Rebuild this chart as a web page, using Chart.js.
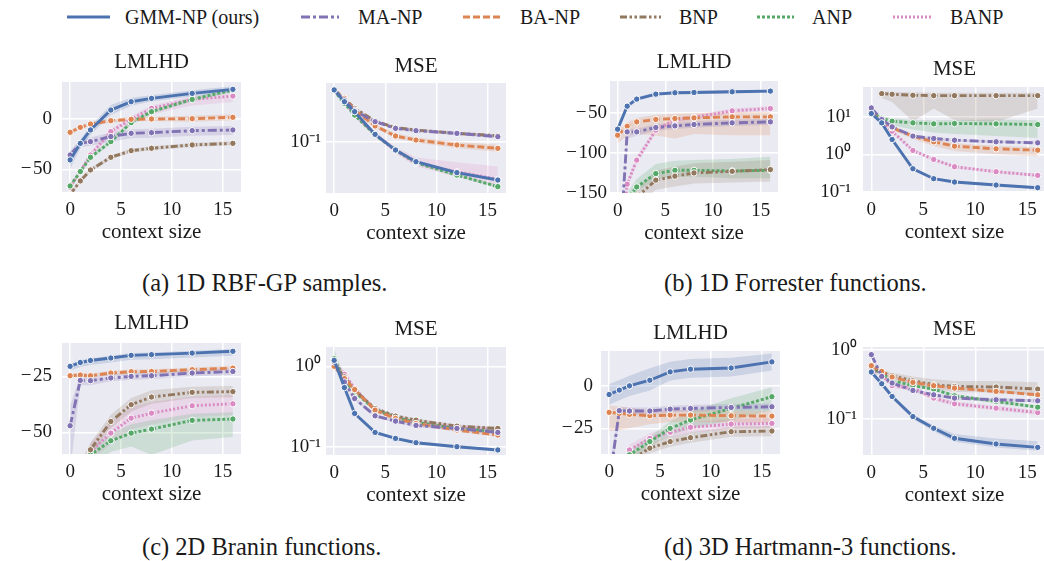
<!DOCTYPE html>
<html><head><meta charset="utf-8">
<script src="https://cdn.jsdelivr.net/npm/chart.js@4.4.1/dist/chart.umd.min.js"></script>
<style>
html,body{margin:0;padding:0;background:#fff;width:1044px;height:561px;overflow:hidden;position:relative;font-family:"Liberation Serif","Times New Roman",serif;color:#1a1a1a}
.panel{position:absolute}
.lg{position:absolute;top:5px;height:24px;font-size:20px;line-height:24px;white-space:nowrap}
.lg svg{position:absolute;top:8px}
.cap{position:absolute;font-size:24.5px;line-height:28px;white-space:nowrap}
</style></head><body>
<div id="legend"></div>
<div class="cap" style="left:142px;top:269px">(a) 1D RBF-GP samples.</div>
<div class="cap" style="left:664px;top:269px">(b) 1D Forrester functions.</div>
<div class="cap" style="left:142px;top:533px">(c) 2D Branin functions.</div>
<div class="cap" style="left:664px;top:533px">(d) 3D Hartmann-3 functions.</div>
<script>
// ---------------- data ----------------
const contextSizes = [0, 1, 2, 4, 6, 8, 12, 16];
const seriesNames = ['GMM-NP (ours)', 'MA-NP', 'BA-NP', 'BNP', 'ANP', 'BANP'];
const seriesColors = ['#4C72B0', '#8172B3', '#DD8452', '#937860', '#55A868', '#DA8BC3'];
const seriesDashes = [[], [9, 3, 3, 3], [7, 3], [7, 2.5, 2.5, 2.5, 2.5, 2.5], [3, 2], [2, 2]];

// (a) 1D RBF-GP samples — LMLHD (rows: GMM, MA, BA, BNP, ANP, BANP)
const rbfLmlhd = [
  [-40.7, -24.2, -10.9, 8.9, 17.2, 20.5, 25.5, 29.5],
  [-35.8, -24.2, -22.5, -17.5, -14.2, -13.6, -11.6, -10.9],
  [-13.2, -8.3, -5.0, -1.7, -0.3, 0.0, 0.3, 1.7],
  [-75, -61.6, -50.7, -38.1, -31.5, -29.1, -25.8, -24.2],
  [-66.6, -52.3, -38.1, -22.5, -3.6, 7.3, 19.5, 28.8],
  [-68, -52, -35.8, -12.6, -0.3, 10.6, 19.5, 22.8]];
const rbfLmlhdLo = [
  [9, 5, 5, 5, 4, 3, 3, 3], [5, 4, 4, 5, 5, 5, 5, 5], [2, 2, 2, 2, 2, 2, 3, 3],
  [2, 2, 2, 2, 2, 2, 2, 2], [2, 2, 2, 2, 2, 2, 2, 2], [2, 2, 3, 4, 5, 6, 6, 6]];
const rbfLmlhdHi = [
  [5, 4, 4, 5, 4, 3, 3, 3], [4, 4, 4, 4, 4, 4, 4, 4], [2, 2, 2, 2, 2, 2, 3, 3],
  [2, 2, 2, 2, 2, 2, 2, 2], [2, 2, 2, 2, 2, 2, 2, 2], [2, 2, 3, 3, 3, 3, 3, 3]];
// (a) MSE
const rbfMse = [
  [0.270, 0.2154, 0.1778, 0.1151, 0.0852, 0.0681, 0.0552, 0.0479],
  [0.270, 0.2223, 0.1812, 0.1468, 0.1292, 0.1235, 0.1173, 0.1101],
  [0.270, 0.2297, 0.1836, 0.1351, 0.1115, 0.1032, 0.0938, 0.0880],
  [0.270, 0.2297, 0.1896, 0.1487, 0.1308, 0.1251, 0.1173, 0.1122],
  [0.266, 0.2086, 0.1668, 0.1137, 0.0852, 0.0668, 0.0527, 0.0422],
  [0.270, 0.2154, 0.1668, 0.1151, 0.0841, 0.0660, 0.0562, 0.0485]];
const rbfMseLo = [
  [1.03, 1.03, 1.03, 1.03, 1.03, 1.03, 1.03, 1.03], [1.03, 1.03, 1.03, 1.03, 1.03, 1.03, 1.03, 1.03],
  [1.02, 1.02, 1.03, 1.04, 1.05, 1.05, 1.06, 1.07], [1.03, 1.03, 1.03, 1.03, 1.03, 1.03, 1.03, 1.03],
  [1.03, 1.03, 1.03, 1.03, 1.03, 1.03, 1.03, 1.03], [1.02, 1.02, 1.03, 1.04, 1.05, 1.06, 1.1, 1.15]];
const rbfMseHi = [
  [1.03, 1.03, 1.03, 1.03, 1.03, 1.03, 1.03, 1.03], [1.03, 1.03, 1.03, 1.03, 1.03, 1.03, 1.03, 1.03],
  [1.02, 1.02, 1.03, 1.04, 1.05, 1.05, 1.06, 1.07], [1.03, 1.03, 1.03, 1.03, 1.03, 1.03, 1.03, 1.03],
  [1.03, 1.03, 1.03, 1.03, 1.03, 1.03, 1.03, 1.03], [1.02, 1.02, 1.03, 1.05, 1.08, 1.12, 1.2, 1.28]];

// (b) 1D Forrester — LMLHD
const forrLmlhd = [
  [-70.4, -41.7, -32.9, -26.7, -25.0, -24.6, -23.8, -22.9],
  [-270, -73.8, -73.8, -68.3, -66.3, -64.6, -62.5, -61.3],
  [-77.9, -66.7, -61.3, -58.3, -57.1, -56.3, -55.0, -55.0],
  [-200, -175, -155, -134, -129, -125, -123, -120.8],
  [-200, -158, -142.5, -125.8, -121.7, -121.7, -122.5, -121.7],
  [-250, -139, -109, -71.7, -59, -55.8, -47.5, -44.6]];
const forrLmlhdLo = [
  [3, 3, 2, 2, 2, 2, 2, 2], [10, 8, 5, 4, 4, 4, 4, 4], [10, 12, 15, 20, 25, 20, 23, 23],
  [10, 10, 12, 12, 13, 13, 14, 15], [5, 5, 6, 7, 8, 8, 9, 10], [5, 5, 5, 3, 3, 3, 3, 3]];
const forrLmlhdHi = [
  [3, 2, 2, 2, 2, 2, 2, 2], [4, 4, 4, 4, 4, 4, 4, 4], [6, 5, 5, 6, 6, 6, 6, 6],
  [10, 10, 10, 12, 12, 12, 12, 12], [8, 8, 10, 12, 12, 13, 15, 17], [5, 5, 5, 3, 3, 3, 3, 3]];
// (b) MSE
const forrMse = [
  [12.3, 6.93, 2.50, 0.416, 0.226, 0.184, 0.153, 0.130],
  [17.3, 8.50, 5.43, 3.07, 2.66, 2.40, 2.17, 2.04],
  [14.1, 8.50, 5.11, 3.07, 2.17, 1.66, 1.41, 1.30],
  [null, 41.6, 40.0, 37.6, 36.8, 36.8, 36.8, 36.8],
  [13.3, 9.22, 7.67, 6.93, 6.52, 6.66, 6.52, 6.26],
  [14.1, 7.67, 4.16, 1.28, 0.736, 0.471, 0.347, 0.277]];
const forrMseLo = [
  [1.05, 1.05, 1.08, 1.08, 1.08, 1.08, 1.08, 1.08], [1.08, 1.08, 1.08, 1.08, 1.08, 1.08, 1.08, 1.08],
  [1.05, 1.1, 1.15, 1.2, 1.3, 1.35, 1.4, 1.45], [1, 1.3, 1.6, 5, 2.2, 4.5, 5, 2.2],
  [1.1, 1.2, 1.3, 1.5, 1.7, 1.9, 2.1, 2.3], [1.1, 1.1, 1.1, 1.1, 1.1, 1.1, 1.1, 1.1]];
const forrMseHi = [
  [1.05, 1.05, 1.08, 1.08, 1.08, 1.08, 1.08, 1.08], [1.08, 1.08, 1.08, 1.08, 1.08, 1.08, 1.08, 1.08],
  [1.05, 1.1, 1.1, 1.15, 1.15, 1.2, 1.2, 1.2], [1, 1.15, 1.15, 1.2, 1.2, 1.2, 1.2, 1.2],
  [1.1, 1.15, 1.2, 1.2, 1.25, 1.25, 1.3, 1.3], [1.1, 1.1, 1.1, 1.1, 1.1, 1.1, 1.1, 1.1]];

// (c) 2D Branin — LMLHD
const braninLmlhd = [
  [-20.5, -18.8, -17.9, -16.8, -15.6, -15.3, -14.6, -13.8],
  [-47, -26.8, -26.9, -25.7, -25.0, -24.7, -23.5, -22.8],
  [-24.7, -24.4, -24.7, -23.5, -22.9, -22.8, -22.0, -21.3],
  [-90, -66, -57.7, -45.1, -37.6, -34.2, -32.1, -31.8],
  [-95, -78, -60, -53.7, -50.3, -48.5, -44.6, -44.0],
  [-95, -78, -58.5, -50.3, -43.6, -41.4, -38.1, -37.2]];
const braninLmlhdLo = [
  [2, 2, 2, 2, 2, 2, 2, 2], [20, 2, 2, 1.5, 1.5, 1.5, 1.5, 1.5], [1, 1, 1, 1, 1, 1, 1, 1],
  [3, 3, 3, 3, 3, 3, 2.5, 2.5], [5, 5, 5, 5, 6, 11.5, 9, 8], [3, 3, 4, 5, 5, 5, 5, 5]];
const braninLmlhdHi = [
  [1, 1, 1, 1, 1, 1, 1, 1], [9, 2, 2, 1.5, 1.5, 1.5, 1.5, 1.5], [1, 1, 1, 1, 1, 1, 1, 1],
  [3, 3, 3, 3, 3, 3, 2.5, 2.5], [3, 3, 3, 3, 4, 4, 3, 3], [3, 3, 4, 5, 5, 5, 4, 4]];
// (c) MSE
const braninMse = [
  [1.187, 0.544, 0.259, 0.1506, 0.1268, 0.112, 0.100, 0.091],
  [1.132, 0.639, 0.397, 0.242, 0.208, 0.1838, 0.1687, 0.1506],
  [1.0, 0.703, 0.514, 0.285, 0.2245, 0.1946, 0.161, 0.1396],
  [1.079, 0.738, 0.504, 0.2985, 0.240, 0.214, 0.1803, 0.1687],
  [1.245, 0.671, 0.481, 0.290, 0.231, 0.2003, 0.1687, 0.1535],
  [1.132, 0.796, 0.529, 0.285, 0.235, 0.1984, 0.1737, 0.164]];
const braninMseLo = [
  [1.04, 1.04, 1.04, 1.04, 1.04, 1.04, 1.04, 1.04], [1.05, 1.05, 1.05, 1.05, 1.05, 1.05, 1.05, 1.05],
  [1.05, 1.05, 1.05, 1.05, 1.05, 1.05, 1.05, 1.05], [1.05, 1.05, 1.05, 1.05, 1.05, 1.05, 1.05, 1.05],
  [1.15, 1.08, 1.06, 1.06, 1.06, 1.06, 1.06, 1.06], [1.1, 1.1, 1.08, 1.06, 1.06, 1.06, 1.06, 1.06]];
const braninMseHi = [
  [1.04, 1.04, 1.04, 1.04, 1.04, 1.04, 1.04, 1.04], [1.05, 1.05, 1.05, 1.05, 1.05, 1.05, 1.05, 1.05],
  [1.05, 1.05, 1.05, 1.05, 1.05, 1.05, 1.05, 1.05], [1.05, 1.05, 1.05, 1.05, 1.05, 1.05, 1.05, 1.05],
  [1.3, 1.1, 1.08, 1.06, 1.06, 1.06, 1.06, 1.06], [1.1, 1.1, 1.08, 1.06, 1.06, 1.06, 1.06, 1.06]];

// (d) 3D Hartmann-3 — LMLHD
const hartLmlhd = [
  [-5.1, -2.5, 0.0, 3.3, 8.2, 9.8, 10.5, 14.1],
  [-58, -14.6, -14.8, -14.8, -13.7, -13.3, -12.7, -12.3],
  [-15.6, -16.2, -16.8, -17.6, -17.2, -17.2, -17.6, -17.8],
  [-65, -55, -44, -36.7, -32.8, -30.5, -27.0, -26.6],
  [-65, -55, -40.6, -32.8, -25.0, -20.1, -13.3, -6.4],
  [-65, -55, -37.7, -30.9, -27.3, -24.4, -22.5, -22.1]];
const hartLmlhdLo = [
  [6, 6, 6, 6, 5, 5, 5, 5], [8, 2, 2, 2, 2, 2, 2, 2], [11, 10, 8, 5, 4, 4, 4, 4],
  [3, 3, 3, 3, 3, 3, 3, 3], [3, 3, 3, 3, 4, 5, 7, 8], [3, 3, 3, 3, 3, 3, 3, 3]];
const hartLmlhdHi = [
  [6, 6, 6, 7, 6, 6, 6, 5], [8, 2, 2, 2, 2, 2, 2, 2], [4, 4, 4, 3, 3, 3, 3, 3],
  [3, 3, 3, 3, 3, 3, 3, 3], [3, 3, 3, 3, 4, 5, 6, 5.5], [3, 3, 3, 3, 3, 3, 3, 3]];
// (d) MSE
const hartMse = [
  [0.476, 0.323, 0.212, 0.109, 0.0741, 0.0532, 0.0441, 0.0394],
  [0.847, 0.412, 0.331, 0.259, 0.224, 0.201, 0.190, 0.184],
  [0.588, 0.487, 0.403, 0.338, 0.303, 0.280, 0.251, 0.224],
  [0.544, 0.471, 0.422, 0.357, 0.313, 0.296, 0.290, 0.271],
  [0.544, 0.451, 0.361, 0.303, 0.271, 0.217, 0.180, 0.149],
  [0.515, 0.436, 0.303, 0.280, 0.201, 0.1665, 0.144, 0.1248]];
const hartMseLo = [
  [1.05, 1.05, 1.06, 1.08, 1.1, 1.12, 1.12, 1.12], [1.05, 1.05, 1.05, 1.05, 1.05, 1.05, 1.05, 1.05],
  [1.05, 1.05, 1.05, 1.05, 1.05, 1.05, 1.05, 1.05], [1.05, 1.08, 1.1, 1.15, 1.15, 1.2, 1.2, 1.2],
  [1.06, 1.06, 1.06, 1.06, 1.06, 1.06, 1.06, 1.06], [1.08, 1.08, 1.08, 1.08, 1.08, 1.08, 1.08, 1.08]];
const hartMseHi = [
  [1.05, 1.05, 1.06, 1.08, 1.1, 1.15, 1.2, 1.22], [1.05, 1.05, 1.05, 1.05, 1.05, 1.05, 1.05, 1.05],
  [1.05, 1.05, 1.05, 1.05, 1.05, 1.05, 1.05, 1.05], [1.05, 1.08, 1.1, 1.15, 1.2, 1.2, 1.22, 1.25],
  [1.06, 1.06, 1.06, 1.06, 1.06, 1.06, 1.06, 1.06], [1.08, 1.08, 1.08, 1.08, 1.08, 1.08, 1.08, 1.08]];

// tick values
const xTickValues = [0, 5, 10, 15];
const rbfLmlhdTicks = [-50, 0];
const rbfMseTicks = [0.1];
const forrLmlhdTicks = [-150, -100, -50];
const forrMseTicks = [0.1, 1, 10];
const braninLmlhdTicks = [-50, -25];
const braninMseTicks = [0.1, 1];
const hartLmlhdTicks = [-25, 0];
const hartMseTicks = [0.1, 1];

// ---------------- layout ----------------
const FONT = '"Liberation Serif", "Times New Roman", serif';
const TEXT = '#1a1a1a';
const panels = [
  {title: 'LMLHD', mean: rbfLmlhd, lo: rbfLmlhdLo, hi: rbfLmlhdHi, log: false, yMin: -72.6, yMax: 36.8, ticks: rbfLmlhdTicks, L: 62, T: 82, R: 245.5, B: 192, gap: 20, pad: 10},
  {title: 'MSE', mean: rbfMse, lo: rbfMseLo, hi: rbfMseHi, log: true, yMin: 0.03736, yMax: 0.3083, ticks: rbfMseTicks, L: 325.6, T: 83, R: 510.2, B: 193, gap: 17, pad: 5},
  {title: 'LMLHD', mean: forrLmlhd, lo: forrLmlhdLo, hi: forrLmlhdHi, log: false, yMin: -150, yMax: -10.3, ticks: forrLmlhdTicks, L: 610.4, T: 81, R: 783.4, B: 192.7, gap: 18.3, pad: 3},
  {title: 'MSE', mean: forrMse, lo: forrMseLo, hi: forrMseHi, log: true, yMin: 0.1, yMax: 62.5, ticks: forrMseTicks, L: 862.5, T: 87.3, R: 1050, B: 192.7, gap: 18, pad: 12},
  {title: 'LMLHD', mean: braninLmlhd, lo: braninLmlhdLo, hi: braninLmlhdHi, log: false, yMin: -59.6, yMax: -10.1, ticks: braninLmlhdTicks, L: 62, T: 343.3, R: 245.5, B: 454.3, gap: 19.3, pad: 10},
  {title: 'MSE', mean: braninMse, lo: braninMseLo, hi: braninMseHi, log: true, yMin: 0.0788, yMax: 1.74, ticks: braninMseTicks, L: 325.6, T: 346.7, R: 510.2, B: 455, gap: 17.4, pad: 5},
  {title: 'LMLHD', mean: hartLmlhd, lo: hartLmlhdLo, hi: hartLmlhdHi, log: false, yMin: -40.1, yMax: 20.5, ticks: hartLmlhdTicks, L: 600.6, T: 350.7, R: 784.5, B: 454, gap: 18, pad: 8},
  {title: 'MSE', mean: hartMse, lo: hartMseLo, hi: hartMseHi, log: true, yMin: 0.0306, yMax: 1.09, ticks: hartMseTicks, L: 862.5, T: 347.3, R: 1050, B: 455, gap: 18, pad: 6}
];

const SUP = {'-': '\u207B', '0': '\u2070', '1': '\u00B9', '2': '\u00B2', '3': '\u00B3'};
function logLabel(v) {
  const e = String(Math.round(Math.log10(v)));
  return '10' + e.split('').map(c => SUP[c]).join('');
}
function linLabel(v) { return v < 0 ? '\u2212\u200A' + Math.abs(v) : String(v); }
function hexA(hex, a) {
  const n = parseInt(hex.slice(1), 16);
  return `rgba(${(n >> 16) & 255},${(n >> 8) & 255},${n & 255},${a})`;
}
const bgPlugin = {
  id: 'bgPlot',
  beforeDraw(chart) {
    const {ctx, chartArea: a} = chart;
    ctx.save(); ctx.fillStyle = '#EAEAF2';
    ctx.fillRect(a.left, a.top, a.right - a.left, a.bottom - a.top);
    ctx.restore();
  }
};

const YW = 70, XH = 56, TOPH = 44;
panels.forEach(p => {
  const L = Math.round(p.L), T = Math.round(p.T);
  const pw = Math.round(p.R - p.L), ph = Math.round(p.B - p.T);
  const div = document.createElement('div');
  div.className = 'panel';
  div.style.left = (L - YW) + 'px';
  div.style.top = (T - TOPH) + 'px';
  const cv = document.createElement('canvas');
  cv.width = pw + YW; cv.height = ph + TOPH + XH;
  cv.style.width = cv.width + 'px'; cv.style.height = cv.height + 'px';
  div.appendChild(cv); document.body.appendChild(div);

  const pts = arr => contextSizes.map((x, i) => ({x, y: arr[i]}));
  const datasets = [];
  for (let s = 0; s < seriesNames.length; s++) {
    const m = p.mean[s], c = seriesColors[s];
    const lo = m.map((v, i) => v == null ? null : (p.log ? v / p.lo[s][i] : v - p.lo[s][i]));
    const hi = m.map((v, i) => v == null ? null : (p.log ? v * p.hi[s][i] : v + p.hi[s][i]));
    datasets.push({data: pts(lo), borderWidth: 0, borderColor: 'rgba(0,0,0,0)', pointRadius: 0, fill: false, order: 100 + s});
    datasets.push({data: pts(hi), borderWidth: 0, borderColor: 'rgba(0,0,0,0)', pointRadius: 0, fill: '-1', backgroundColor: hexA(c, 0.2), order: 100 + s});
    datasets.push({label: seriesNames[s], data: pts(m), borderColor: c, borderWidth: 2.9, borderDash: seriesDashes[s],
      pointRadius: 3.2, pointBackgroundColor: c, pointBorderColor: '#ffffff', pointBorderWidth: 1, fill: false, order: 1 + s, tension: 0});
  }
  new Chart(cv, {
    type: 'line',
    data: {datasets},
    plugins: [bgPlugin],
    options: {
      responsive: false, animation: false, events: [], devicePixelRatio: 1,
      layout: {padding: {left: 0, right: 0, top: 0, bottom: 0}},
      plugins: {
        legend: {display: false}, tooltip: {enabled: false},
        title: {display: true, text: p.title, fullSize: false, color: TEXT, font: {family: FONT, size: 21, weight: 'normal'},
          padding: {top: 31.4 - p.gap, bottom: p.gap - 12.6}}
      },
      scales: {
        x: {
          type: 'linear', min: -0.8, max: 16.8,
          afterBuildTicks: sc => { sc.ticks = xTickValues.map(v => ({value: v})); },
          afterFit: sc => { sc.height = XH; },
          grid: {color: '#ffffff', lineWidth: 1.5, drawTicks: false},
          border: {display: false},
          ticks: {color: TEXT, font: {family: FONT, size: 19}, padding: 7, maxRotation: 0, callback: v => String(v)},
          title: {display: true, text: 'context size', color: TEXT, font: {family: FONT, size: 21}, padding: {top: 0, bottom: 3}}
        },
        y: {
          type: p.log ? 'logarithmic' : 'linear', min: p.yMin, max: p.yMax,
          afterBuildTicks: sc => { sc.ticks = p.ticks.map(v => ({value: v})); },
          afterFit: sc => { sc.width = YW; },
          grid: {color: '#ffffff', lineWidth: 1.5, drawTicks: false},
          border: {display: false},
          ticks: {color: TEXT, font: {family: FONT, size: 19}, padding: p.pad, callback: v => p.log ? logLabel(v) : linLabel(v)}
        }
      }
    }
  });
});

// ---------------- legend ----------------
const legendLine = [[67, 43], [301, 38], [463, 39], [620, 41], [757, 37], [893, 38]];
const legendText = [125, 358, 520, 679, 812, 950];
const lg = document.getElementById('legend');
seriesNames.forEach((n, s) => {
  const d = document.createElement('div');
  d.className = 'lg';
  d.style.left = legendLine[s][0] + 'px';
  const w = legendLine[s][1];
  d.innerHTML = `<svg width="${w}" height="8" style="left:0"><line x1="0" y1="4" x2="${w}" y2="4" stroke="${seriesColors[s]}" stroke-width="3.2" stroke-dasharray="${seriesDashes[s].join(' ') || 'none'}"/></svg>` +
    `<span style="position:absolute;left:${legendText[s] - legendLine[s][0]}px">${n}</span>`;
  lg.appendChild(d);
});
</script>
</body></html>
